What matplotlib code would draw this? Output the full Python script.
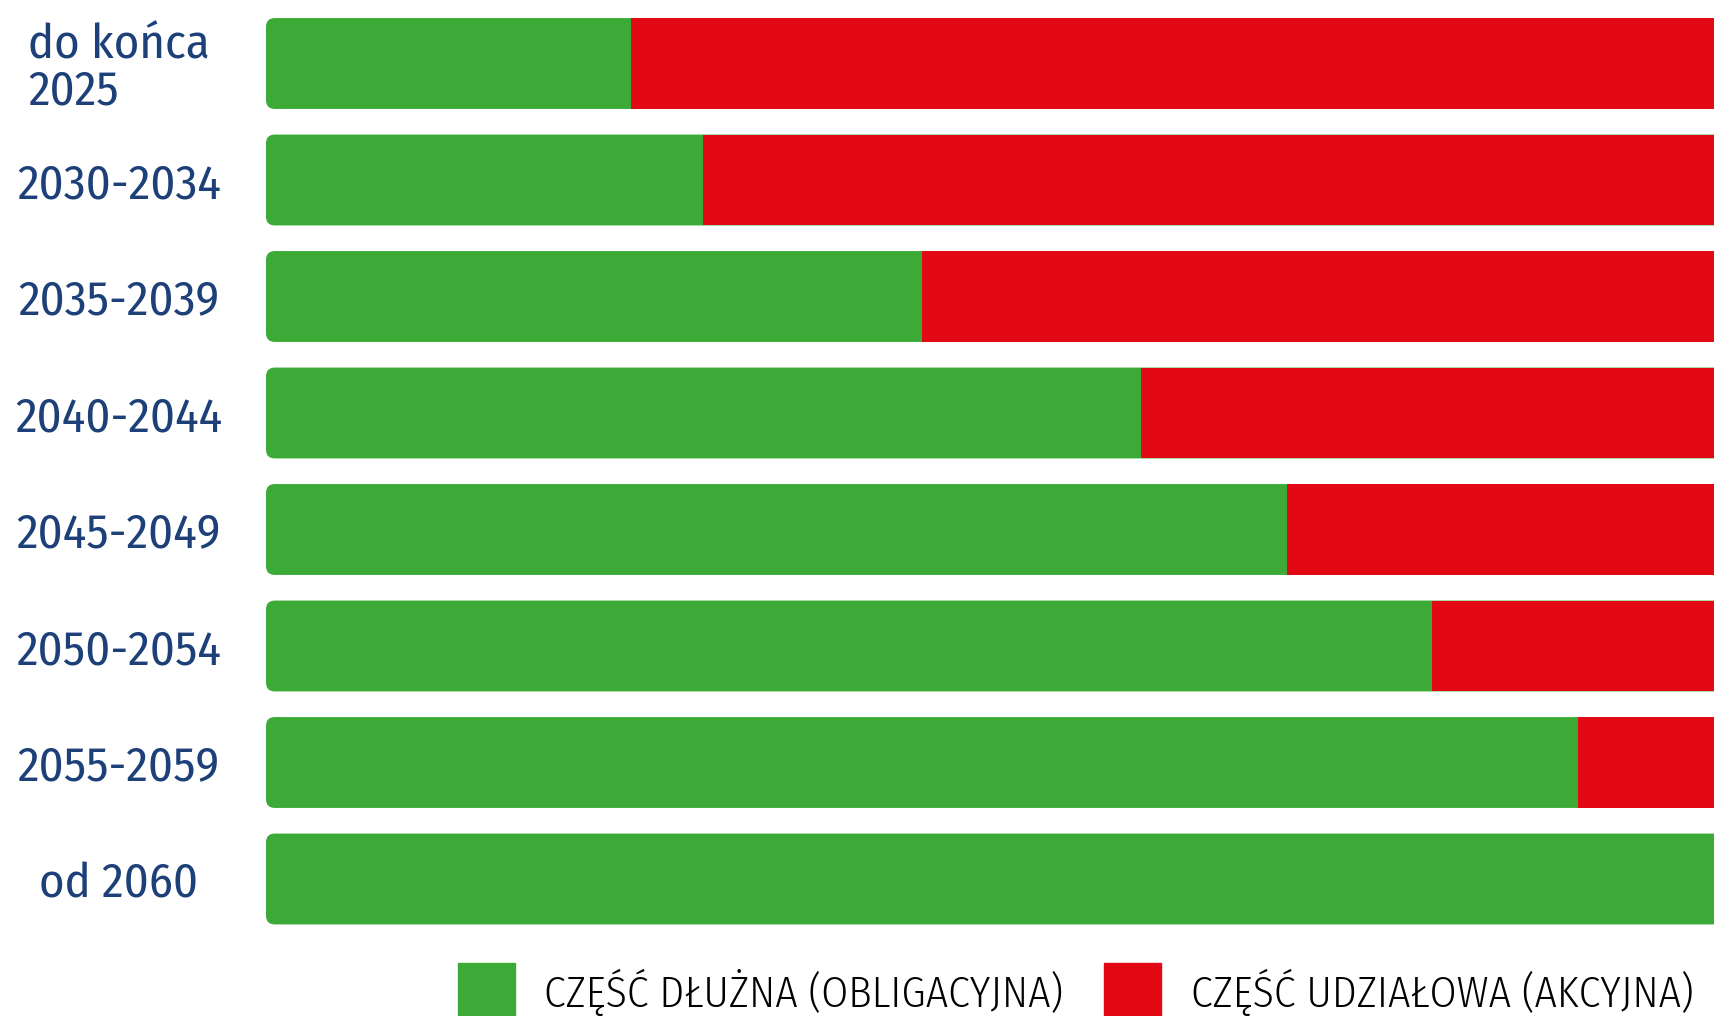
import numpy as np
import matplotlib
matplotlib.use('Agg')
import matplotlib.pyplot as plt
from matplotlib.patches import FancyBboxPatch, Patch

# data
categories = ['do końca\n2025', '2030-2034', '2035-2039', '2040-2044',
              '2045-2049', '2050-2054', '2055-2059', 'od 2060']
debt_part = [25, 30, 45, 60, 70, 80, 90, 100]      # część dłużna, %
total = [100] * len(categories)
equity_part = [t - d for t, d in zip(total, debt_part)]
legend_labels = ['CZĘŚĆ DŁUŻNA (OBLIGACYJNA)', 'CZĘŚĆ UDZIAŁOWA (AKCYJNA)']

green = '#3caa36'
red = '#e30914'
label_col = '#1d4079'

plt.rcParams['font.family'] = ['Fira Sans Condensed', 'DejaVu Sans']

W, H = 1714, 1016
fig = plt.figure(figsize=(W / 100, H / 100), dpi=100)
x0 = 266
ax = fig.add_axes([x0 / W, 0, 1 - x0 / W, 1])

y = np.arange(len(categories))
bar_h = 0.78
px_per_x = (1724 - x0) / 100
px_per_y = 116.5
aspect = px_per_x / px_per_y

# whole bar (rounded left corners), green underneath
for yi, t in zip(y, total):
    p = FancyBboxPatch((0, yi - bar_h / 2), t, bar_h,
                       boxstyle='round,pad=0,rounding_size=0.6',
                       mutation_aspect=aspect, fc=green, ec='none')
    ax.add_patch(p)
# equity part on top
ax.barh(y, equity_part, left=debt_part, height=bar_h, color=red, lw=0)

ax.set_xlim(0, (W - x0) / px_per_x)
ax.set_ylim((H - 63.5) / px_per_y, -63.5 / px_per_y)
ax.set_yticks(y, categories)
ax.tick_params(axis='y', length=0, pad=106, labelsize=35, labelcolor=label_col)
for lab in ax.get_yticklabels():
    lab.set_horizontalalignment('center')
    lab.set_multialignment('left')
    lab.set_linespacing(1.0)
    lab.set_fontweight(400)
ax.set_xticks([])
for s in ax.spines.values():
    s.set_visible(False)

handles = [Patch(color=green), Patch(color=red)]
leg = fig.legend(handles, legend_labels, ncol=2, frameon=False,
                 loc='upper left', bbox_to_anchor=(458 / W, 1 - 963 / H),
                 handlelength=1.31, handleheight=1.75, handletextpad=0.67,
                 columnspacing=0.95, borderpad=0, borderaxespad=0,
                 prop={'family': ['Fira Sans Condensed', 'DejaVu Sans'], 'weight': 300, 'size': 31.3})

fig.savefig('out.png', dpi=100)
